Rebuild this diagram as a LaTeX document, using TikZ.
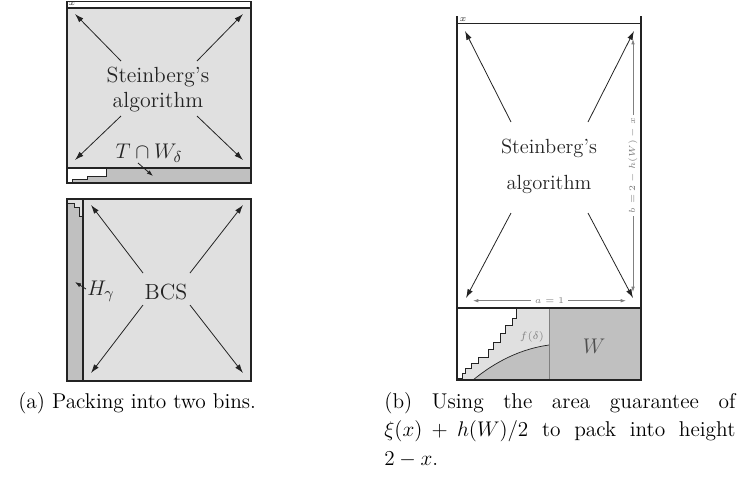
\documentclass[tikz,border=0pt]{standalone}
\usetikzlibrary{arrows.meta}
\definecolor{lg}{RGB}{224,224,224}
\definecolor{dg}{RGB}{192,192,192}
\definecolor{ink}{RGB}{35,35,35}
\begin{document}
\begin{tikzpicture}[x=0.566pt,y=-0.566pt,
  bin/.style={draw=ink,line width=0.6pt},
  thinline/.style={draw=ink,line width=0.4pt},
  arr/.style={-{Latex[length=5pt,width=3.2pt]},line width=0.45pt,draw=ink},
  sarr/.style={-{Latex[length=3.5pt,width=2.4pt]},line width=0.45pt,draw=ink},
  darr/.style={{Latex[length=3pt,width=2pt]}-{Latex[length=3pt,width=2pt]},line width=0.4pt,draw=gray},
  bigtext/.style={font=\fontsize{12.4}{14}\selectfont,text=ink,inner sep=0pt},
  midtext/.style={font=\fontsize{11.6}{13}\selectfont,text=ink,inner sep=0pt},
  tinytext/.style={font=\fontsize{5}{6}\selectfont,text=gray,inner sep=0pt},
  captext/.style={font=\fontsize{12.1}{16.1}\selectfont,inner sep=0pt}]
\useasboundingbox (0,0) rectangle (745,481);

% ---------- Bin 1 ----------
\fill[lg] (67,8) rectangle (251,168);
\fill[dg] (67,168) rectangle (251,183);
\fill[white] (67,168) -- (106,168) -- (106,176) -- (87,176) -- (87,179.5) -- (72,179.5) -- (72,183) -- (67,183) -- cycle;
\draw[thinline] (106,168) -- (106,176) -- (87,176) -- (87,179.5) -- (72,179.5) -- (72,183);
\draw[bin] (67,1.5) rectangle (251,183);
\draw[bin] (67,8) -- (251,8);
\draw[bin] (67,168) -- (251,168);
\node[tinytext,text=ink] (x1) at (72,4) {$x$};
\node[bigtext] (st1) at (158,77) {Steinberg's};
\node[bigtext] (al1) at (158,102) {algorithm};
\coordinate (a1) at (121,61); \coordinate (t1) at (75,14);
\coordinate (a2) at (197,61); \coordinate (t2) at (243,14);
\coordinate (a3) at (121,116); \coordinate (t3) at (75,160);
\coordinate (a4) at (197,116); \coordinate (t4) at (243,160);
\draw[arr] (a1) -- (t1);
\draw[arr] (a2) -- (t2);
\draw[arr] (a3) -- (t3);
\draw[arr] (a4) -- (t4);
\node[bigtext] (tw) at (149,153) {$T\cap W_\delta$};
\coordinate (twa) at (138,163); \coordinate (twt) at (153,176);
\draw[sarr] (twa) -- (twt);

% ---------- Bin 2 ----------
\fill[lg] (67,199) rectangle (251,381);
\fill[dg] (67,203) -- (74,203) -- (74,207.5) -- (79,207.5) -- (79,216) -- (83,216) -- (83,381) -- (67,381) -- cycle;
\draw[thinline] (67,203) -- (74,203) -- (74,207.5) -- (79,207.5) -- (79,216) -- (83,216);
\draw[bin] (67,199) rectangle (251,381);
\draw[bin] (83,199) -- (83,381);
\node[bigtext] (bcs) at (166,292) {BCS};
\coordinate (b1) at (143,273); \coordinate (u1) at (91,205);
\coordinate (b2) at (190,273); \coordinate (u2) at (243,205);
\coordinate (b3) at (143,305); \coordinate (u3) at (91,373);
\coordinate (b4) at (190,305); \coordinate (u4) at (243,373);
\draw[arr] (b1) -- (u1);
\draw[arr] (b2) -- (u2);
\draw[arr] (b3) -- (u3);
\draw[arr] (b4) -- (u4);
\node[bigtext] (hg) at (101,291) {$H_\gamma$};
\coordinate (hga) at (86,289); \coordinate (hgt) at (75,282);
\draw[sarr] (hga) -- (hgt);

% ---------- Right bin ----------
\fill[lg] (457,308) rectangle (549,380);
\fill[white] (457,308) -- (516,308) -- (516,318) -- (512,318) -- (512,325) -- (505,325) -- (505,333) -- (500,333) -- (500,342) -- (493,342) -- (493,349) -- (488,349) -- (488,357) -- (478,357) -- (478,363) -- (471,363) -- (471,368) -- (465,368) -- (465,373) -- (462,373) -- (462,378) -- (458,378) -- (458,380) -- (457,380) -- cycle;
\draw[thinline] (516,308) -- (516,318) -- (512,318) -- (512,325) -- (505,325) -- (505,333) -- (500,333) -- (500,342) -- (493,342) -- (493,349) -- (488,349) -- (488,357) -- (478,357) -- (478,363) -- (471,363) -- (471,368) -- (465,368) -- (465,373) -- (462,373) -- (462,378) -- (458,378) -- (458,380);
\fill[dg] (473,380) .. controls (495,362) and (520,349) .. (549,345) -- (549,380) -- cycle;
\draw[thinline] (473,380) .. controls (495,362) and (520,349) .. (549,345);
\fill[dg] (549,308) rectangle (641,380);
\draw[draw=gray,line width=0.4pt] (549,308) -- (549,380);
\draw[bin] (457,16) -- (457,380) -- (641,380) -- (641,16);
\draw[bin] (457,23.3) -- (641,23.3);
\draw[bin] (457,308) -- (641,308);
\node[tinytext,text=ink] (x2) at (463,19.5) {$x$};
\node[midtext] (st2) at (549,148) {Steinberg's};
\node[midtext] (al2) at (549,184) {algorithm};
\coordinate (c1) at (511,122); \coordinate (v1) at (465,31);
\coordinate (c2) at (588,122); \coordinate (v2) at (634,31);
\coordinate (c3) at (511,213); \coordinate (v3) at (466,298);
\coordinate (c4) at (588,213); \coordinate (v4) at (633,298);
\draw[arr] (c1) -- (v1);
\draw[arr] (c2) -- (v2);
\draw[arr] (c3) -- (v3);
\draw[arr] (c4) -- (v4);
\coordinate (ha) at (473,300.7); \coordinate (hb) at (626,300.7);
\draw[darr] (ha) -- node[tinytext,fill=white,inner sep=2pt] (alab) {$a=1$} (hb);
\coordinate (va) at (633,39); \coordinate (vb) at (633,292);
\draw[darr] (vb) -- node[tinytext,fill=white,inner sep=1.5pt,rotate=90] (blab) {$b=2-h(W)-x$} (va);
\node[font=\fontsize{6}{7}\selectfont,text=gray,inner sep=0pt] (fd) at (532,337) {$f(\delta)$};
\node[font=\fontsize{12}{14}\selectfont,text=ink!80,inner sep=0pt] (w) at (594,346) {$W$};

% ---------- Captions ----------
\node[captext,anchor=base west] (capa) at (18,408) {(a) Packing into two bins.};
\node[captext,anchor=north west,text width=198.7pt,align=justify] (capb) at (384,392)
  {(b) Using the area guarantee of\linebreak $\xi(x)+h(W)/2$ to pack into height\linebreak $2-x$.};
\end{tikzpicture}
\end{document}
